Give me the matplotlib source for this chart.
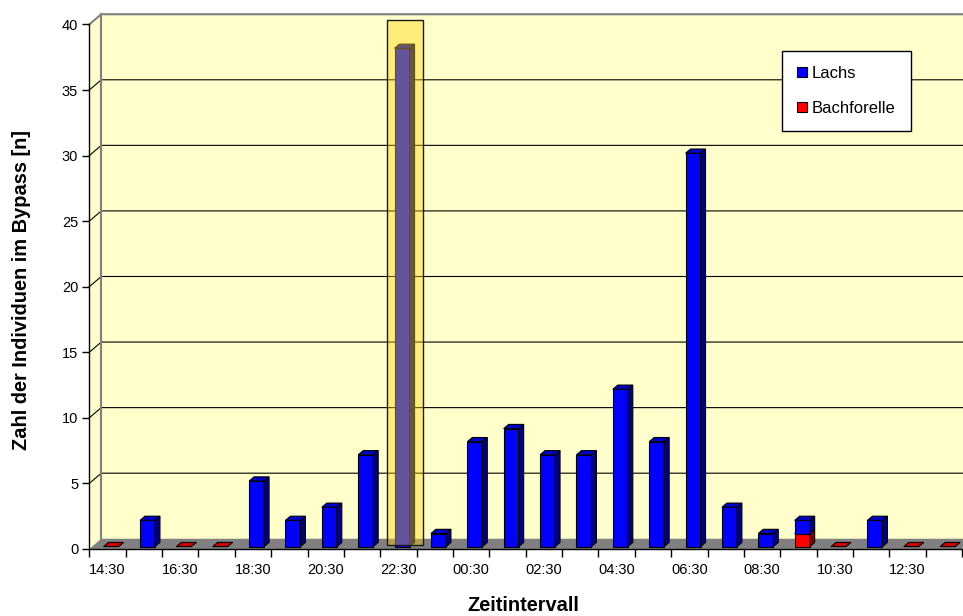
import numpy as np
import matplotlib.pyplot as plt
from matplotlib.patches import Polygon, Rectangle, Patch

plt.rcParams["font.family"] = ["Liberation Sans", "DejaVu Sans"]

# Daten
zeiten = ["14:30", "15:30", "16:30", "17:30", "18:30", "19:30", "20:30", "21:30",
          "22:30", "23:30", "00:30", "01:30", "02:30", "03:30", "04:30", "05:30",
          "06:30", "07:30", "08:30", "09:30", "10:30", "11:30", "12:30", "13:30"]
lachs = [0, 2, 0, 0, 5, 2, 3, 7, 38, 1, 8, 9, 7, 7, 12, 8, 30, 3, 1, 1, 0, 2, 0, 0]
bachforelle = [0, 0, 0, 0, 0, 0, 0, 0, 0, 0, 0, 0, 0, 0, 0, 0, 0, 0, 0, 1, 0, 0, 0, 0]
markiert = "22:30"  # hervorgehobenes Intervall

n = len(zeiten)
ymax = 40

# 3D-Optik (in Dateneinheiten)
dx, dy = 0.33, 0.78      # Tiefe der Wand
bw = 0.412               # Balkenbreite
bx0 = 0.394              # linker Rand der Vorderseite innerhalb der Kategorie
ox, oy = 0.0, 0.18       # Versatz der Vorderseite
sx, sy = 0.137, 0.32     # Tiefe der Balken

wall = "#FFFFCC"
floor = "#808080"

fig = plt.figure(figsize=(9.63, 6.16), dpi=100)
ax = fig.add_axes([0.0927, 0.1088, 0.9065, 0.8515])
ax.set_xlim(0, n)
ax.set_ylim(0, ymax)
ax.patch.set_visible(False)

# Wände und Boden
ax.add_patch(Polygon([(dx, dy), (n + dx, dy), (n + dx, ymax + dy), (dx, ymax + dy)],
                     closed=True, fc=wall, ec="none", zorder=0, clip_on=False))
ax.add_patch(Polygon([(0, 0), (dx, dy), (dx, ymax + dy), (0, ymax)],
                     closed=True, fc=wall, ec="none", zorder=0, clip_on=False))
ax.add_patch(Polygon([(0, 0), (n, 0), (n + dx, dy), (dx, dy)],
                     closed=True, fc=floor, ec="none", zorder=0.5, clip_on=False))

# Gitternetz
for v in range(5, ymax, 5):
    ax.plot([0, dx, n + dx], [v, v + dy, v + dy], color="black", lw=0.8,
            zorder=1, clip_on=False)
ax.plot([0, dx, n + dx], [ymax, ymax + dy, ymax + dy], color="#808080", lw=1.5,
        zorder=1, clip_on=False)
ax.plot([dx, dx], [dy, ymax + dy], color="#808080", lw=1.5, zorder=1, clip_on=False)


def saeule(i, unten, oben, c_front, c_side, c_top):
    x0 = i + bx0 + ox
    b = unten + oy
    t = oben + oy
    kw = dict(ec="black", lw=0.8, zorder=3, clip_on=False)
    if oben > unten:
        ax.add_patch(Rectangle((x0, b), bw, t - b, fc=c_front, **kw))
        ax.add_patch(Polygon([(x0 + bw, b), (x0 + bw + sx, b + sy),
                              (x0 + bw + sx, t + sy), (x0 + bw, t)],
                             closed=True, fc=c_side, **kw))
    ax.add_patch(Polygon([(x0, t), (x0 + sx, t + sy), (x0 + bw + sx, t + sy), (x0 + bw, t)],
                         closed=True, fc=c_top, **kw))


for i in range(n):
    bf = bachforelle[i]
    la = lachs[i]
    if bf + la == 0:
        saeule(i, 0, 0, "#FF0000", "#800000", "#CC0000")
        continue
    if bf > 0:
        saeule(i, 0, bf, "#FF0000", "#800000", "#CC0000")
    if la > 0:
        saeule(i, bf, bf + la, "#0000FF", "#000080", "#0000CC")

# Hervorhebung
k = zeiten.index(markiert)
ax.add_patch(Rectangle((k + 0.18, 0.3), 1.0, ymax + 0.35 - 0.3, fc=(1.0, 0.83, 0.02, 0.40),
                       ec="#1a1a1a", lw=1.0, zorder=4, clip_on=False))

# Achsen
for s in ["top", "right"]:
    ax.spines[s].set_visible(False)
for s in ["left", "bottom"]:
    ax.spines[s].set_color("black")
    ax.spines[s].set_linewidth(1.0)
    ax.spines[s].set_zorder(2)

ax.set_yticks(np.arange(0, ymax + 1, 5))
ax.tick_params(axis="y", direction="out", length=5, width=1, pad=3, labelsize=10.5,
               colors="black")
ax.set_xticks(np.arange(0, n + 1))
ax.set_xticklabels([])
ax.set_xticks(np.arange(0, n, 2) + 0.5, minor=True)
ax.set_xticklabels(zeiten[::2], minor=True)
ax.tick_params(axis="x", which="major", direction="out", length=6, width=1)
ax.tick_params(axis="x", which="minor", length=0, pad=10, labelsize=10.5)

fig.text(0.022, 0.529, "Zahl der Individuen im Bypass [n]", rotation=90,
         ha="center", va="center", fontsize=14.4, fontweight="bold")
fig.text(0.543, 0.017, "Zeitintervall", ha="center", va="center",
         fontsize=14.4, fontweight="bold")

# Legende
handles = [Patch(fc="#0000FF", ec="black", lw=0.8, label="Lachs"),
           Patch(fc="#FF0000", ec="black", lw=0.8, label="Bachforelle")]
leg = ax.legend(handles=handles, loc="upper left", bbox_to_anchor=(0.7935, 0.9495),
                borderaxespad=0, fontsize=12, fancybox=False, framealpha=1,
                edgecolor="black", handlelength=0.6, handleheight=0.6,
                handletextpad=0.3, labelspacing=1.2, borderpad=0.9)
leg.get_frame().set_linewidth(1.0)
leg.set_zorder(6)

fig.savefig("out.png", dpi=100)
